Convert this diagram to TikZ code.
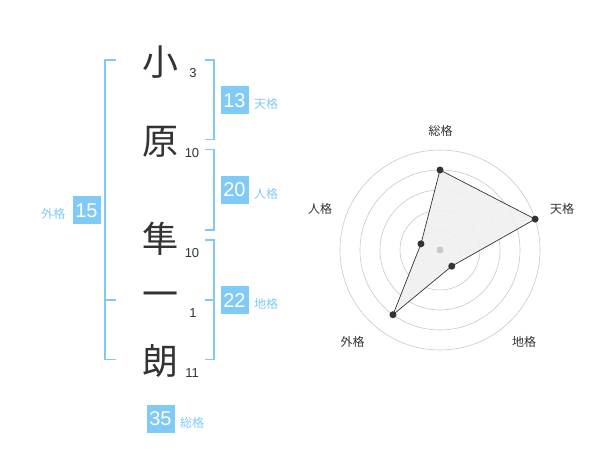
\documentclass[tikz,border=0pt]{standalone}
\usepackage{fontspec}
\setmainfont{Liberation Sans}
\newfontfamily\cjk{Noto Sans CJK JP}
\usetikzlibrary{calc}
\definecolor{kblue}{RGB}{128,202,248}
\definecolor{kline}{RGB}{130,200,245}
\definecolor{ktext}{RGB}{51,51,51}
\definecolor{kgrid}{RGB}{200,200,200}
\tikzset{
  bigchar/.style={font=\cjk\fontsize{36}{36}\selectfont, text=ktext, inner sep=0pt},
  strokenum/.style={font=\fontsize{13}{13}\selectfont, text=ktext, inner sep=0pt},
  numbox/.style={fill=kblue, text=white, minimum width=28pt, minimum height=28pt, inner sep=0pt, font=\fontsize{20}{20}\selectfont},
  blabel/.style={font=\cjk\fontsize{12}{12}\selectfont, text=kblue, inner sep=0pt},
  bracket/.style={draw=kline, line width=1.6pt},
  rlabel/.style={font=\cjk\fontsize{12}{12}\selectfont, text=ktext, inner sep=0pt},
  ring/.style={draw=kgrid, line width=0.6pt},
  dot/.style={circle, fill=ktext, inner sep=0pt, minimum size=7pt},
}
\begin{document}
\begin{tikzpicture}[x=1pt,y=-1pt]
\useasboundingbox (0,0) rectangle (600,470);
% characters
\node[bigchar] (c1) at (160,62) {小};
\node[bigchar] (c2) at (160,142) {原};
\node[bigchar] (c3) at (160,239) {隼};
\node[bigchar] (c4) at (160,300) {一};
\node[bigchar] (c5) at (160,361) {朗};
% stroke counts
\node[strokenum] (n1) at (193,73) {3};
\node[strokenum] (n2) at (192,153) {10};
\node[strokenum] (n3) at (192,253) {10};
\node[strokenum] (n4) at (193,313) {1};
\node[strokenum] (n5) at (192,373) {11};
% brackets
\coordinate (lt) at (116,60);
\coordinate (lb) at (116,359.5);
\draw[bracket] (lt) -- (105,60) -- (105,359.5) -- (lb);
\coordinate (lm) at (116,300);
\draw[bracket] (105,300) -- (lm);
\coordinate (t1) at (205,60);
\coordinate (t2) at (205,139.5);
\draw[bracket] (t1) -- (214,60) -- (214,139.5) -- (t2);
\coordinate (j1) at (205,149.5);
\coordinate (j2) at (205,230);
\draw[bracket] (j1) -- (214,149.5) -- (214,230) -- (j2);
\coordinate (d1) at (205,240);
\coordinate (d2) at (205,359.5);
\draw[bracket] (d1) -- (214,240) -- (214,359.5) -- (d2);
\coordinate (dm) at (205,300);
\draw[bracket] (dm) -- (214,300);
% boxes and labels
\node[numbox] (b13) at (234.5,100.5) {13};
\node[blabel] (l13) at (266,104) {天格};
\node[numbox] (b20) at (234.5,190) {20};
\node[blabel] (l20) at (266,194) {人格};
\node[numbox] (b22) at (234.5,300.5) {22};
\node[blabel] (l22) at (266,304) {地格};
\node[numbox] (b15) at (86.5,210.5) {15};
\node[blabel] (l15) at (53.5,214) {外格};
\node[numbox] (b35) at (160.5,419) {35};
\node[blabel] (l35) at (192,423) {総格};
% radar
\coordinate (c) at (440,250);
\foreach \r in {20,40,60,80,100} \draw[ring] (c) circle[radius=\r];
\coordinate (p1) at ($(c)+(-90:80)$);
\coordinate (p2) at ($(c)+(-18:100)$);
\coordinate (p3) at ($(c)+(54:20)$);
\coordinate (p4) at ($(c)+(126:80)$);
\coordinate (p5) at ($(c)+(198:20)$);
\fill[black!6, opacity=0.9] (p1) -- (p2) -- (p3) -- (p4) -- (p5) -- cycle;
\draw[ktext, line width=0.7pt] (p1) -- (p2) -- (p3) -- (p4) -- (p5) -- cycle;
\node[circle, fill=kgrid, inner sep=0pt, minimum size=7pt] (cd) at (c) {};
\foreach \i in {1,...,5} \node[dot] (d\i) at (p\i) {};
\node[rlabel] (r1) at (440.5,131) {総格};
\node[rlabel] (r2) at (562,208.5) {天格};
\node[rlabel] (r3) at (524,342) {地格};
\node[rlabel] (r4) at (352.5,342) {外格};
\node[rlabel] (r5) at (320,208.5) {人格};
\end{tikzpicture}
\end{document}
